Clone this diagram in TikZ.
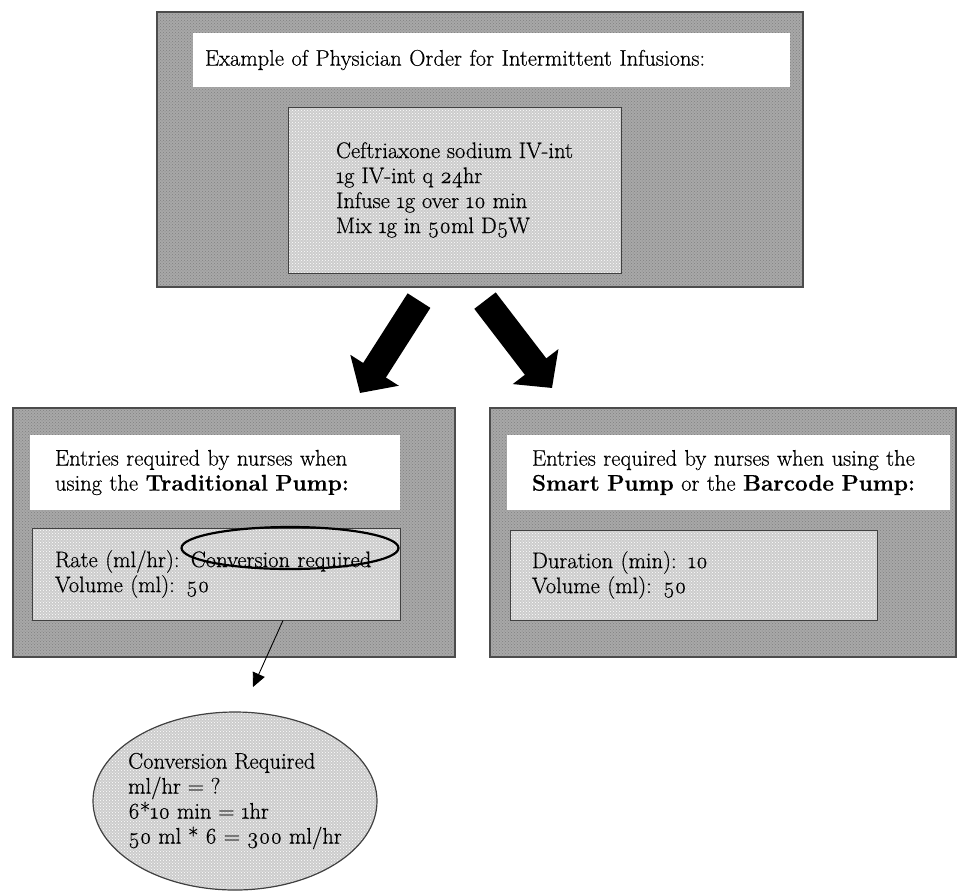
\documentclass[tikz,border=0pt]{standalone}
\usepackage{fontspec}
\setmainfont{Latin Modern Roman}[Numbers=OldStyle, FakeBold=0.5]
\usetikzlibrary{shapes, arrows.meta, patterns, positioning}

\begin{document}
\begin{tikzpicture}[x=1pt, y=-1pt, font={\fontsize{22.5}{25}\selectfont},
    outerbox/.style={rectangle, draw=black!70, line width=1.2pt, preaction={fill=black!34}, pattern=crosshatch dots, pattern color=black!50, inner sep=0pt},
    titlebox/.style={rectangle, fill=white, align=left, inner ysep=0pt},
    innerbox/.style={draw=black!75, line width=1pt, preaction={fill=black!20}, pattern=crosshatch dots, pattern color=white, align=left},
    fatarrow/.style={line width=27pt, -{Triangle[length=27pt, width=56pt]}},
    thinarrow/.style={line width=0.9pt, -{Triangle[length=14pt, width=13pt]}}]
    \useasboundingbox (0,0) rectangle (957,892);

    % physician order
    \node[outerbox, minimum width=646pt, minimum height=275pt] (order) at (480,149.5) {};
    \node[titlebox, text width=573pt, inner xsep=12pt, minimum height=54pt] (order-title) at (491.5,60) {Example of Physician Order for Intermittent Infusions:};
    \node[innerbox, rectangle, minimum width=333pt, minimum height=166pt] (order-text) at (454.5,190) {Ceftriaxone sodium IV-int\\ 1g IV-int q 24hr\\ Infuse 1g over 10 min\\ Mix 1g in 50ml D5W};

    % traditional pump
    \node[outerbox, minimum width=442pt, minimum height=249pt] (trad) at (234,532.5) {};
    \node[titlebox, text width=320pt, inner xsep=25pt, minimum height=75pt] (trad-title) at (215,472.5) {Entries required by nurses when\\ using the \textbf{Traditional Pump:}};
    \node[innerbox, rectangle, text width=322pt, inner xsep=23pt, minimum height=92pt] (trad-entry) at (216,574) {Rate (ml/hr): Conversion required\\ Volume (ml): 50};
    \node[ellipse, draw, line width=2.2pt, minimum width=217pt, minimum height=42pt] (conv-mark) at (290,548) {};

    % smart and barcode pump
    \node[outerbox, minimum width=466pt, minimum height=249pt] (smart) at (723,532.5) {};
    \node[titlebox, text width=393pt, inner xsep=25pt, minimum height=75pt] (smart-title) at (728.5,472.5) {Entries required by nurses when using the\\ \textbf{Smart Pump} or the \textbf{Barcode Pump:}};
    \node[innerbox, rectangle, text width=323pt, inner xsep=22pt, minimum height=90pt] (smart-entry) at (693.5,575) {Duration (min): 10\\ Volume (ml): 50};

    % conversion
    \node[innerbox, ellipse, line width=1.2pt, inner xsep=-8pt, inner ysep=0pt, minimum width=284pt, minimum height=178pt] (conv) at (235,801) {Conversion Required\\ ml/hr = ?\\ 6*10 min = 1hr\\ 50 ml * 6 = 300 ml/hr};

    \coordinate (to-trad) at (360,393);
    \coordinate (to-smart) at (552,388);
    \coordinate (to-conv) at (253,687);
    \draw[fatarrow] ([xshift=-61pt, yshift=-13pt]order.south) -- (to-trad);
    \draw[fatarrow] ([xshift=5pt, yshift=-13pt]order.south) -- (to-smart);
    \draw[thinarrow] ([xshift=67pt]trad-entry.south) -- (to-conv);
\end{tikzpicture}
\end{document}
